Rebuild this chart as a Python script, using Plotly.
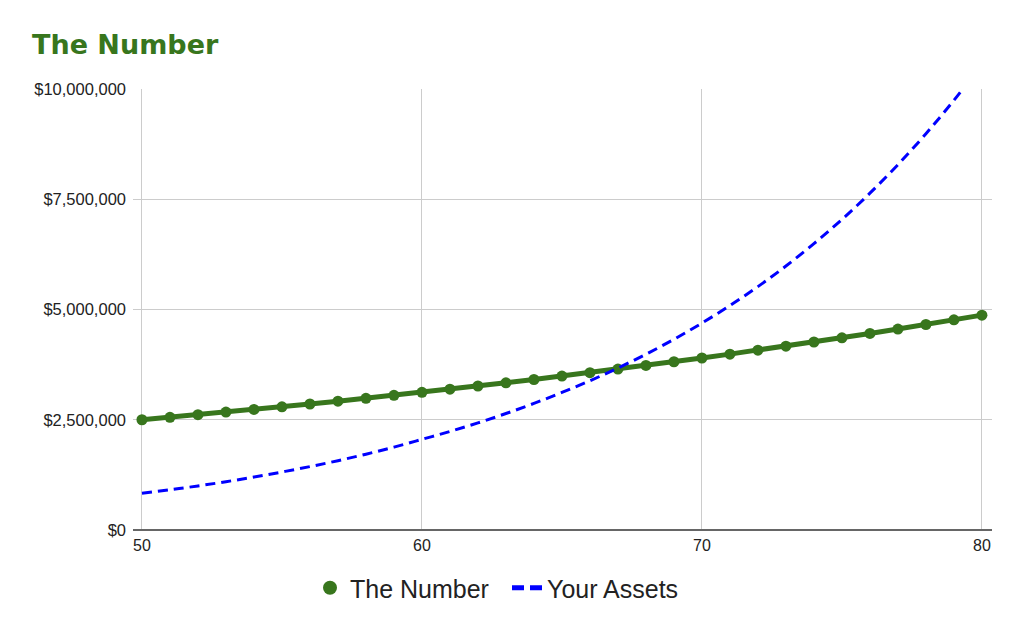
import plotly.graph_objects as go

# ages on the x axis
ages = list(range(50, 81))

# "The Number" - required nest egg per age
the_number = [
    2500000, 2556000, 2614000, 2673000, 2733000, 2794000, 2857000, 2921000,
    2987000, 3054000, 3123000, 3193000, 3265000, 3338000, 3413000, 3490000,
    3568000, 3649000, 3731000, 3815000, 3900000, 3988000, 4078000, 4169000,
    4263000, 4359000, 4457000, 4557000, 4660000, 4765000, 4872000,
]

# "Your Assets" - projected assets per age
your_assets = [
    832000, 912000, 999000, 1095000, 1200000, 1315000, 1438000, 1572000,
    1719000, 1880000, 2056000, 2235000, 2429000, 2641000, 2870000, 3120000,
    3385000, 3673000, 3985000, 4324000, 4692000, 5089000, 5519000, 5986000,
    6493000, 7042000, 7638000, 8284000, 8985000, 9745000, 10569000,
]

x_ticks = [50, 60, 70, 80]
y_ticks = [0, 2500000, 5000000, 7500000, 10000000]

GREEN = "#38761d"
BLUE = "#0000ff"

# the page body has an 8px margin, so the figure is 8px smaller than the window
W, H = 1015, 625

fig = go.Figure()

fig.add_trace(go.Scatter(
    x=ages, y=the_number,
    mode="lines+markers",
    name="The Number",
    line=dict(color=GREEN, width=5),
    marker=dict(color=GREEN, size=11),
    showlegend=False,
    cliponaxis=False,
))

fig.add_trace(go.Scatter(
    x=ages, y=your_assets,
    mode="lines",
    name="Your Assets",
    line=dict(color=BLUE, width=3, dash="10px,6px", shape="spline"),
    showlegend=False,
))

# legend-only entries, styled like the reference key
fig.add_trace(go.Scatter(
    x=[None], y=[None],
    mode="markers",
    name="The Number",
    marker=dict(color=GREEN, size=14),
))
fig.add_trace(go.Scatter(
    x=[None], y=[None],
    mode="lines",
    name="Your Assets",
    line=dict(color=BLUE, width=5, dash="12px,6px"),
))

fig.update_layout(
    width=W, height=H,
    paper_bgcolor="white",
    plot_bgcolor="white",
    margin=dict(l=125, r=31, t=81, b=103),
    title=dict(
        text="<b>The Number</b>",
        font=dict(family="DejaVu Sans", size=27, color=GREEN),
        xref="container", x=24 / W, xanchor="left",
        yref="container", y=1 - 37 / H, yanchor="middle",
    ),
    font=dict(family="Liberation Sans, Arial, sans-serif", color="#222222"),
    legend=dict(
        orientation="h",
        xref="container", x=499 / W, xanchor="center",
        yref="container", y=1 - 580 / H, yanchor="middle",
        font=dict(size=25, color="#222222"),
        entrywidth=152,
    ),
    showlegend=True,
)

fig.update_xaxes(
    range=[49.68, 80.36],
    tickvals=x_ticks,
    showgrid=True, gridcolor="#cccccc", gridwidth=1,
    zeroline=False, showline=False,
    tickfont=dict(size=16, color="#222222"),
    ticklabelstandoff=4,
)

fig.update_yaxes(
    range=[0, 10000000],
    tickvals=y_ticks,
    tickformat="$,.0f",
    showgrid=True, gridcolor="#cccccc", gridwidth=1,
    zeroline=True, zerolinecolor="#666666", zerolinewidth=2,
    showline=False,
    tickfont=dict(size=16.5, color="#222222"),
    ticklabelstandoff=6,
)

fig.write_html("out.html")
